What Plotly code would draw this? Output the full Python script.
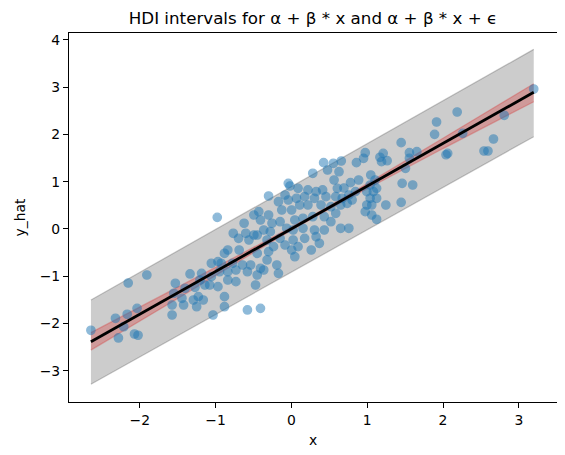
import plotly.graph_objects as go

# observed points (x, y)
x_obs = [-2.645, -2.321, -2.282, -2.212, -2.166, -2.153, -2.070, -2.023, -2.036, -1.907,
         -0.978, -0.495, -0.624, -0.602, -0.767, -0.697, -0.495, -0.560, -0.839, -0.883,
         -0.689, -0.969, -0.926, -1.056, -0.775, -0.732, -0.645, -0.538, -0.580, -0.732,
         -0.839, -0.839, -0.948, -1.056, -1.078, -0.969, -0.883, -0.883, -1.034, -0.580,
         -1.185, -1.337, -1.207, -1.142, -1.272, -1.228, -1.163, -1.250, -1.293, -1.402,
         -1.531, -1.552, -1.444, -1.422, -1.574, -1.574, -0.473, -0.408, -0.451,
         0.425, 0.554, 0.658, 0.477, 0.628, 0.282, 0.563, -0.041, -0.019, -0.301,
         -0.084, 0.088, 0.218, 0.326, 0.412, 0.606, 0.304, 0.456, 0.585, 0.671,
         0.758, -0.171, -0.041, 0.067, 0.175, 0.218, 0.110, 0.003, -0.127, 0.391,
         0.521, 0.650, -0.430, -0.301, -0.408, -0.256, -0.149, 0.045, 0.153, 0.282,
         0.434, 0.521, 0.585, -0.365, -0.278, -0.062, 0.023, 0.153, 0.304, 0.434,
         0.650, 0.758, -0.451, -0.321, -0.149, 0.023, 0.175, 0.326, -0.236, -0.084,
         0.088, 0.262, 0.369, -0.451, -0.301, 0.003, 0.045, -0.321, -0.192, -0.408,
         -0.365, -0.171, 0.693,
         0.974, 0.952, 0.858, 1.168, 1.211, 1.189, 1.263, 0.887, 0.780, 1.104,
         1.039, 1.124, 0.995, 1.082, 1.039, 1.124, 0.845, 0.801, 0.736, 0.995,
         1.060, 1.246, 0.974, 1.060, 1.124, 1.047,
         3.197, 2.808, 2.187, 1.915, 1.889, 2.260, 2.666, 2.541, 2.593, 2.062,
         2.040, 1.448, 1.557, 1.655, 1.557, 1.505, 1.461, 1.600, 1.448]
y_obs = [-2.142, -1.888, -2.304, -2.066, -1.803, -1.142, -2.220, -2.247, -1.677, -0.973,
         0.247, 0.296, 0.121, -0.091, -0.091, -0.197, -0.127, -0.233, -0.444, -0.514,
         -0.444, -0.691, -0.725, -0.725, -0.725, -0.867, -0.761, -0.761, -0.903, -1.114,
         -1.078, -0.903, -0.903, -1.008, -1.184, -1.220, -1.431, -1.643, -1.818, -1.712,
         -0.937, -0.951, -1.078, -1.184, -1.233, -1.431, -1.501, -1.643, -1.501, -1.254,
         -1.148, -1.359, -1.465, -1.607, -1.607, -1.818, -1.184, -1.677, -0.973,
         1.402, 1.389, 1.438, 1.247, 1.211, 1.178, 1.036, 0.966, 0.909, 0.698,
         0.719, 0.860, 0.825, 0.789, 0.825, 0.860, 0.649, 0.683, 0.683, 0.649,
         0.719, 0.577, 0.613, 0.649, 0.683, 0.507, 0.507, 0.402, 0.402, 0.507,
         0.471, 0.507, 0.366, 0.296, 0.190, 0.121, 0.154, 0.190, 0.226, 0.260,
         0.260, 0.154, 0.332, -0.021, -0.057, 0.015, -0.021, 0.015, -0.021, -0.021,
         0.015, 0.015, -0.127, -0.233, -0.197, -0.233, -0.197, -0.163, -0.374, -0.338,
         -0.374, -0.444, -0.302, -0.514, -0.480, -0.444, -0.586, -0.655, -0.761, -0.831,
         -0.867, -0.937, 0.867,
         1.613, 1.495, 1.402, 1.516, 1.600, 1.423, 1.444, 1.036, 0.979, 1.036,
         0.930, 0.860, 0.789, 0.789, 0.649, 0.649, 0.789, 0.613, 0.543, 0.507,
         0.507, 0.507, 0.366, 0.296, 0.205, 1.142,
         2.960, 2.404, 2.474, 2.262, 2.002, 2.023, 1.903, 1.649, 1.649, 1.600,
         1.570, 1.825, 1.613, 1.634, 1.495, 1.283, 0.966, 0.930, 0.564]

# mean line alpha + beta * x
line_x = [-2.645, 3.197]
line_y = [-2.383, 2.890]

# HDI of alpha + beta * x
mu_x = [-2.645, -1.5, -0.5, 0.3, 1.0, 2.0, 3.197]
mu_low = [-2.56, -1.47, -0.50, 0.245, 0.85, 1.70, 2.69]
mu_high = [-2.19, -1.23, -0.39, 0.305, 0.96, 1.92, 3.07]

# HDI of alpha + beta * x + eps
pred_x = [-2.645, 3.197]
pred_low = [-3.283, 1.951]
pred_high = [-1.501, 3.799]

fig = go.Figure()

# predictive band
fig.add_trace(go.Scatter(x=pred_x, y=pred_high, mode="lines",
                         line=dict(color="rgba(0,0,0,0.2)", width=1.3),
                         showlegend=False, hoverinfo="skip"))
fig.add_trace(go.Scatter(x=pred_x, y=pred_low, mode="lines", fill="tonexty",
                         fillcolor="rgba(0,0,0,0.2)",
                         line=dict(color="rgba(0,0,0,0.2)", width=1.3),
                         showlegend=False, hoverinfo="skip"))

# mu band
fig.add_trace(go.Scatter(x=mu_x, y=mu_high, mode="lines", line_shape="spline",
                         line=dict(color="rgba(214,39,40,0.3)", width=1.3),
                         showlegend=False, hoverinfo="skip"))
fig.add_trace(go.Scatter(x=mu_x, y=mu_low, mode="lines", line_shape="spline",
                         fill="tonexty", fillcolor="rgba(214,39,40,0.3)",
                         line=dict(color="rgba(214,39,40,0.3)", width=1.3),
                         showlegend=False, hoverinfo="skip"))

# data
fig.add_trace(go.Scatter(x=x_obs, y=y_obs, mode="markers",
                         marker=dict(color="#1f77b4", size=8.3, opacity=0.5,
                                     line=dict(color="#1f77b4", width=1.4)),
                         showlegend=False))

# mean line
fig.add_trace(go.Scatter(x=line_x, y=line_y, mode="lines",
                         line=dict(color="black", width=2.8), showlegend=False))

axis_style = dict(showgrid=False, zeroline=False, showline=True, mirror=True,
                  linecolor="black", linewidth=1.1, ticks="outside", ticklen=5,
                  tickwidth=1.1, tickcolor="black",
                  tickfont=dict(family="DejaVu Sans", size=13.9, color="black"))

# page has an 8px body margin, so the margins are shifted by that amount
fig.update_layout(
    width=565, height=455,
    margin=dict(l=52, r=16, t=25, b=61),
    paper_bgcolor="white", plot_bgcolor="white",
    font=dict(family="DejaVu Sans", color="black"),
    title=dict(text="HDI intervals for α + β * x and α + β * x + ϵ",
               font=dict(family="DejaVu Sans", size=16.7, color="black"),
               x=0.5, xref="paper", xanchor="center",
               y=1 - 10 / 455, yref="container", yanchor="middle"),
    xaxis=dict(range=[-2.934, 3.504], tickvals=[-2, -1, 0, 1, 2, 3],
               title=dict(text="x", font=dict(size=13.9), standoff=8),
               **axis_style),
    yaxis=dict(range=[-3.658, 4.144], tickvals=[-3, -2, -1, 0, 1, 2, 3, 4],
               title=dict(text="y_hat", font=dict(size=13.9), standoff=10),
               **axis_style),
)

fig.write_html("out.html")
